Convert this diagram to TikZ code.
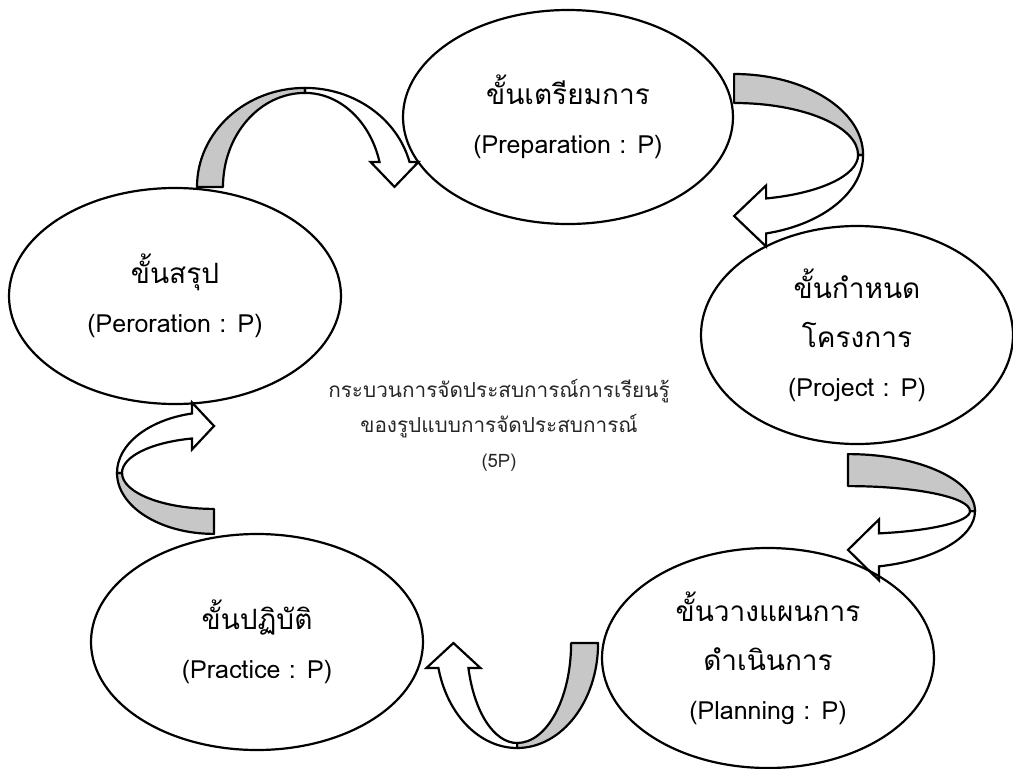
\documentclass[tikz,border=0pt]{standalone}
\usepackage{fontspec}
\setmainfont[Script=Thai]{Loma}
\newfontfamily\thai[Script=Thai, Scale=1.12]{Loma}
\usepackage{tikz}
\usetikzlibrary{shapes.geometric, calc}

\begin{document}
\begin{tikzpicture}[
            x=1pt, y=-1pt,
            stage/.style={ellipse, draw, line width=2.2pt, inner sep=0pt, align=center, font=\fontsize{25}{49}\selectfont},
            note/.style={align=center, text=black!85, font=\fontsize{18.5}{35}\selectfont},
            backface/.style={draw, line width=2.2pt, fill=black!22, line join=round},
            frontface/.style={draw, line width=2.2pt, line join=miter},
            pics/twistarrow/.style n args={6}{code={
                \pgfmathsetmacro\arInner{#1-5}
                \pgfmathsetmacro\arBand{#2-#3}
                \pgfmathsetmacro\arA{acos(#5/#1)}
                \pgfmathsetmacro\arOut{#2*sin(\arA)}
                \pgfmathsetmacro\arB{acos(#5/\arInner)}
                \pgfmathsetmacro\arW{(\arOut-#4)/sin(\arB)}
                \path[backface] (0,-#2) arc[start angle=-90, end angle=0, x radius=#1, y radius=#2]
                    -- (\arInner,0) arc[start angle=0, end angle=-90, x radius=\arInner, y radius=\arBand] -- cycle;
                \path[frontface] (#1,0) arc[start angle=0, end angle=\arA, x radius=#1, y radius=#2]
                    -- ++(0,#6) -- (0,{\arOut-#4/2}) -- (#5,{\arOut-#4-#6}) -- (#5,{\arOut-#4})
                    arc[start angle=\arB, end angle=0, x radius=\arInner, y radius=\arW] -- cycle;
            }}
        ]
            \useasboundingbox (0,0) rectangle (1013,769);

            % Nodes
            \node[stage, minimum width=330pt, minimum height=214pt] (prep) at (568,117) {\thai ขั้นเตรียมการ\\(Preparation : P)};
            \node[stage, minimum width=312pt, minimum height=218pt] (proj) at (857,335) {\thai ขั้นกำหนด\\\thai โครงการ\\(Project : P)};
            \node[stage, minimum width=332pt, minimum height=220pt] (plan) at (768,658) {\thai ขั้นวางแผนการ\\\thai ดำเนินการ\\(Planning : P)};
            \node[stage, minimum width=332pt, minimum height=216pt] (prac) at (257,642) {\thai ขั้นปฏิบัติ\\(Practice : P)};
            \node[stage, minimum width=332pt, minimum height=216pt] (peror) at (175,296) {\thai ขั้นสรุป\\(Peroration : P)};

            \node[note] (core) at (499,425) {\thai กระบวนการจัดประสบการณ์การเรียนรู้\\\thai ของรูปแบบการจัดประสบการณ์\\(5P)};

            % Arrows
            \pic[rotate=90] at ($(peror.north)+(130,0)$) {twistarrow={99}{108}{26}{30}{25}{9}};
            \pic at ($(prep.east)+(0,38)$) {twistarrow={129}{81}{29}{35}{32}{13}};
            \pic at ($(proj.south)+(-9,66)$) {twistarrow={127}{57}{32}{33}{31}{14}};
            \pic[rotate=-90] at ($(prac.east)+(93,1)$) {twistarrow={105}{81}{27}{30}{25}{12}};
            \pic[rotate=180] at ($(prac.north)+(-43,-60)$) {twistarrow={97}{61}{25}{25}{22}{11}};

        \end{tikzpicture}
\end{document}
